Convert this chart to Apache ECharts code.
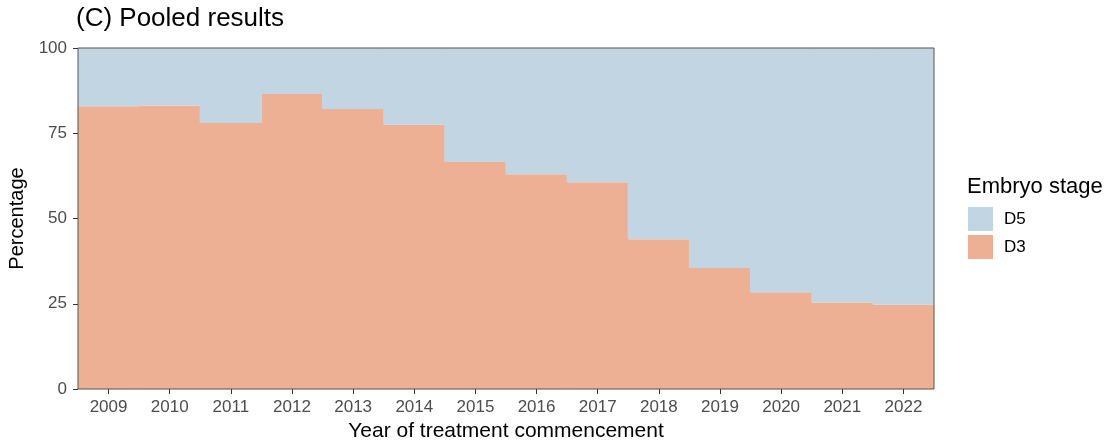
<!DOCTYPE html>
<html>
<head>
<meta charset="utf-8">
<script src="https://cdn.jsdelivr.net/npm/echarts@6/dist/echarts.min.js"></script>
<style>
  html, body { margin: 0; padding: 0; background: #fff; }
  #chart { width: 1105px; height: 440px; }
</style>
</head>
<body>
<div id="chart"></div>
<script>
// Share of cycles by embryo stage at transfer, per year of treatment commencement
const years = ['2009','2010','2011','2012','2013','2014','2015','2016','2017','2018','2019','2020','2021','2022'];
const d3Pct = [82.9, 83.1, 78.0, 86.5, 82.1, 77.5, 66.6, 63.0, 60.6, 43.9, 35.5, 28.4, 25.4, 24.8];
const d5Pct = d3Pct.map(v => +(100 - v).toFixed(1));
const yTicks = [0, 25, 50, 75, 100];

const FONT = '"Liberation Sans", Arial, Helvetica, sans-serif';
const D3_COLOR = '#eeb094';
const D5_COLOR = '#c2d5e3';

// Stacked full-width columns; each block is widened slightly so
// neighbouring years join without hairline gaps.
function stackedBlock(lowerArr, color) {
  return function (params, api) {
    const i = api.value(0);
    const v = api.value(1);
    const base = lowerArr ? lowerArr[i] : 0;
    const bottom = api.coord([i, base]);
    const top = api.coord([i, base + v]);
    const w = api.size([1, 0])[0];
    const rect = echarts.graphic.clipRectByRect({
      x: bottom[0] - w / 2 - 0.6,
      y: top[1],
      width: w + 1.2,
      height: bottom[1] - top[1]
    }, {
      x: params.coordSys.x, y: params.coordSys.y,
      width: params.coordSys.width, height: params.coordSys.height
    });
    return rect && { type: 'rect', shape: rect, style: { fill: color } };
  };
}

const chart = echarts.init(document.getElementById('chart'), null, { renderer: 'canvas' });

chart.setOption({
  animation: false,
  backgroundColor: '#ffffff',
  textStyle: { fontFamily: FONT },
  title: [
    {
      text: '(C) Pooled results',
      left: 76, top: 6, padding: 0,
      textStyle: { fontFamily: FONT, fontSize: 26, fontWeight: 'normal', color: '#000' }
    },
    {
      text: 'Embryo stage',
      left: 967, top: 176, padding: 0,
      textStyle: { fontFamily: FONT, fontSize: 22, fontWeight: 'normal', color: '#000' }
    }
  ],
  legend: {
    data: ['D5', 'D3'],
    orient: 'vertical',
    left: 968, top: 207, padding: 0,
    itemWidth: 25, itemHeight: 24, itemGap: 4,
    icon: 'rect',
    textStyle: { fontFamily: FONT, fontSize: 17, color: '#000', padding: [0, 0, 0, 6] },
    selectedMode: false
  },
  grid: {
    left: 78, right: 171, top: 48, bottom: 51,
    outerBoundsMode: 'none', containLabel: false,
    show: true, borderColor: '#555', borderWidth: 1, backgroundColor: 'transparent', z: 5
  },
  xAxis: {
    type: 'category',
    data: years,
    boundaryGap: true,
    name: 'Year of treatment commencement',
    nameLocation: 'middle',
    nameGap: 31,
    nameTextStyle: { fontFamily: FONT, fontSize: 21, color: '#000' },
    axisLine: { show: false },
    axisTick: { show: true, alignWithLabel: true, length: 5, lineStyle: { color: '#333' } },
    axisLabel: { fontFamily: FONT, fontSize: 17, color: '#4d4d4d', margin: 10 },
    splitLine: { show: false }
  },
  yAxis: {
    type: 'value',
    min: yTicks[0], max: yTicks[yTicks.length - 1], interval: 25,
    name: 'Percentage',
    nameLocation: 'middle',
    nameGap: 45,
    nameRotate: 90,
    nameTextStyle: { fontFamily: FONT, fontSize: 20, color: '#000' },
    axisLine: { show: false },
    axisTick: { show: true, length: 5, lineStyle: { color: '#333' } },
    axisLabel: { fontFamily: FONT, fontSize: 17, color: '#4d4d4d', margin: 11 },
    splitLine: { show: false }
  },
  series: [
    {
      name: 'D3', type: 'custom',
      renderItem: stackedBlock(null, D3_COLOR),
      data: d3Pct.map((v, i) => [i, v]),
      encode: { x: 0, y: 1 },
      itemStyle: { color: D3_COLOR }
    },
    {
      name: 'D5', type: 'custom',
      renderItem: stackedBlock(d3Pct, D5_COLOR),
      data: d5Pct.map((v, i) => [i, v]),
      encode: { x: 0, y: 1 },
      itemStyle: { color: D5_COLOR }
    }
  ]
});
</script>
</body>
</html>
